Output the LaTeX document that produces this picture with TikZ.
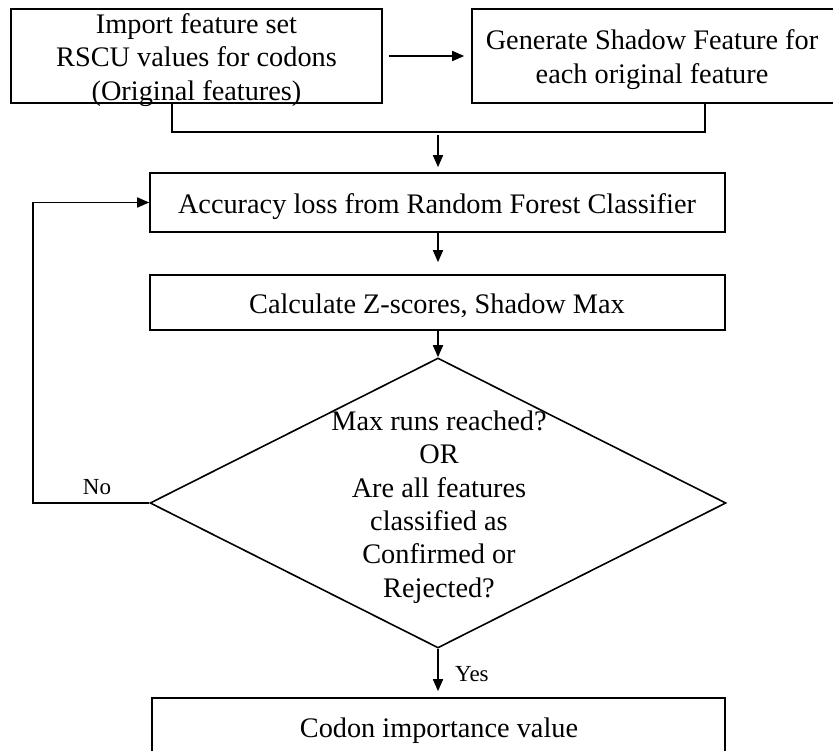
\documentclass[tikz,border=0pt]{standalone}
\usepackage{fontspec}
\setmainfont{Liberation Serif}
\usetikzlibrary{arrows.meta,shapes.geometric,calc}
\begin{document}
\begin{tikzpicture}[x=1pt,y=-1pt,
  conn/.style={line width=1.6pt, draw=black},
  boxshape/.style={conn, rectangle, inner sep=0pt},
  txt/.style={align=center, inner sep=0pt, font=\fontsize{28.3}{33.4}\selectfont},
  lbl/.style={inner sep=0pt, font=\fontsize{23}{27}\selectfont},
  arr/.style={conn, -{Triangle[length=12pt,width=10pt]}}]
\useasboundingbox (0,0) rectangle (833,751);
% boxes
\node[boxshape, minimum width=371pt, minimum height=94pt] (b1) at (196.5,56) {};
\node[boxshape, minimum width=368pt, minimum height=94pt] (b2) at (656,56) {};
\node[boxshape, minimum width=575pt, minimum height=59pt] (b3) at (437.5,202.5) {};
\node[boxshape, minimum width=575pt, minimum height=55pt] (b4) at (437.5,302.5) {};
\node[boxshape, minimum width=573pt, minimum height=62pt] (b5) at (438.5,729) {};
\node[diamond, conn, inner sep=0pt, minimum width=576pt, minimum height=290pt] (d) at (438,503) {};
% texts
\node[txt] (t1) at (196.5,60) {Import feature set\\RSCU values for codons\\(Original features)};
\node[txt] (t2) at (652,59.5) {Generate Shadow Feature for\\each original feature};
\node[txt] (t3) at (437,206.5) {Accuracy loss from Random Forest Classifier};
\node[txt] (t4) at (437,306) {Calculate Z-scores, Shadow Max};
\node[txt] (td) at (439,507) {Max runs reached?\\OR\\Are all features\\classified as\\Confirmed or\\Rejected?};
\node[txt] (t5) at (439,730.5) {Codon importance value};
\node[lbl] (no) at (97,487.5) {No};
\node[lbl, anchor=west] (yes) at (455,674) {Yes};
% connectors
\draw[arr, shorten <=6pt, shorten >=7pt] (b1.east) -- (b2.west);
\coordinate (j1) at (172,132);
\coordinate (j2) at (705,132);
\coordinate (j3) at (438,135);
\draw[conn] (j1 |- b1.south) -- (j1) -- (j2) -- (j2 |- b2.south);
\draw[arr, shorten >=5pt] (j3) -- (j3 |- b3.north);
\draw[arr, shorten >=12pt] (b3.south -| j3) -- (b4.north -| j3);
\draw[arr] (b4.south -| d.north) -- (d.north);
\draw[arr, shorten >=6pt] (d.south) -- (d.south |- b5.north);
\coordinate (lp) at (33,0);
\draw[arr] (d.west) -- (d.west -| lp) |- (b3.west);
\end{tikzpicture}
\end{document}
